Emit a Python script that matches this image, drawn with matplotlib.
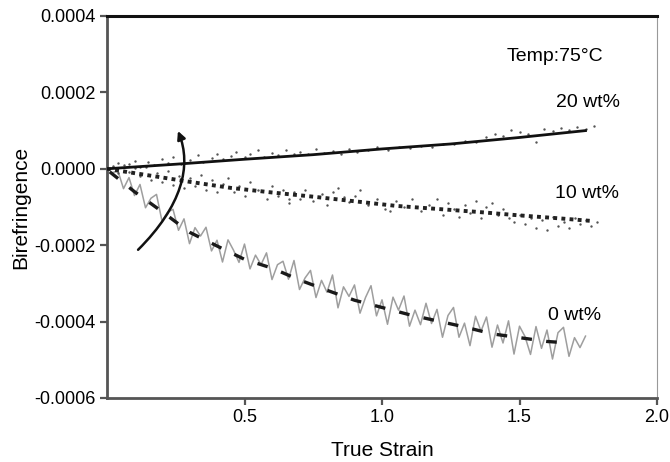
import matplotlib
matplotlib.use("Agg")
import matplotlib.pyplot as plt
from matplotlib.patches import FancyArrowPatch
from matplotlib.path import Path
import numpy as np

plt.rcParams['font.family'] = ['Liberation Sans', 'DejaVu Sans']

SCALE = 1e-4

# 0 wt% : raw (noisy) trace and fitted dashed curve
x0_raw = [0.02, 0.04, 0.06, 0.08, 0.10, 0.12, 0.14, 0.16, 0.18, 0.20,
          0.22, 0.24, 0.26, 0.28, 0.30, 0.32, 0.34, 0.36, 0.38, 0.40,
          0.42, 0.44, 0.46, 0.48, 0.50, 0.52, 0.54, 0.56, 0.58, 0.60,
          0.62, 0.64, 0.66, 0.68, 0.70, 0.72, 0.74, 0.76, 0.78, 0.80,
          0.82, 0.84, 0.86, 0.88, 0.90, 0.92, 0.94, 0.96, 0.98, 1.00,
          1.02, 1.04, 1.06, 1.08, 1.10, 1.12, 1.14, 1.16, 1.18, 1.20,
          1.22, 1.24, 1.26, 1.28, 1.30, 1.32, 1.34, 1.36, 1.38, 1.40,
          1.42, 1.44, 1.46, 1.48, 1.50, 1.52, 1.54, 1.56, 1.58, 1.60,
          1.62, 1.64, 1.66, 1.68, 1.70, 1.72, 1.74]
y0_raw = [-0.10, -0.06, -0.52, -0.23, -0.70, -0.41, -1.02, -0.77, -0.67, -1.37,
          -1.14, -1.06, -1.61, -1.31, -1.96, -1.54, -1.76, -1.53, -2.15, -1.87,
          -2.44, -1.86, -2.13, -2.45, -1.97, -2.62, -2.26, -2.51, -2.20, -2.90,
          -2.51, -2.42, -2.89, -2.40, -3.16, -2.86, -2.66, -3.37, -2.92, -3.23,
          -2.78, -3.64, -3.09, -3.34, -3.04, -3.78, -3.37, -3.06, -3.85, -3.43,
          -4.07, -3.36, -3.70, -3.33, -4.12, -3.70, -4.08, -3.52, -4.05, -3.68,
          -4.41, -3.84, -3.63, -4.41, -4.04, -4.63, -3.86, -4.25, -3.88, -4.67,
          -4.09, -4.56, -3.98, -4.85, -4.12, -4.39, -4.86, -4.13, -4.70, -4.22,
          -4.98, -4.29, -4.15, -4.91, -4.42, -4.68, -4.38]
x0_fit = [0.01, 0.1, 0.2, 0.3, 0.4, 0.5, 0.6, 0.7, 0.8, 0.9, 1.0,
          1.1, 1.2, 1.3, 1.4, 1.5, 1.6, 1.68]
y0_fit = [-0.08, -0.60, -1.12, -1.66, -2.02, -2.37, -2.60, -2.91, -3.18, -3.44, -3.63,
          -3.82, -3.98, -4.14, -4.32, -4.42, -4.52, -4.56]

# 10 wt% : scatter and dotted fit
x10_pts = [0.02, 0.04, 0.06, 0.08, 0.10, 0.12, 0.14, 0.16, 0.18, 0.20,
           0.22, 0.24, 0.26, 0.28, 0.30, 0.32, 0.34, 0.36, 0.38, 0.40,
           0.42, 0.44, 0.46, 0.48, 0.50, 0.52, 0.55, 0.58, 0.60, 0.62,
           0.64, 0.66, 0.66, 0.68, 0.70, 0.72, 0.75, 0.78, 0.80, 0.82,
           0.84, 0.86, 0.88, 0.90, 0.92, 0.95, 0.98, 1.01, 1.03, 1.05,
           1.08, 1.11, 1.14, 1.17, 1.20, 1.22, 1.24, 1.26, 1.28, 1.30,
           1.32, 1.34, 1.36, 1.38, 1.40, 1.42, 1.44, 1.46, 1.48, 1.50,
           1.52, 1.54, 1.56, 1.58, 1.60, 1.62, 1.64, 1.66, 1.68, 1.70,
           1.72, 1.74, 1.76, 1.78]
y10_pts = [0.05, -0.10, 0.10, -0.08, 0.02, -0.20, 0.05, -0.30, -0.10, -0.35,
           -0.05, -0.42, -0.20, -0.50, -0.25, -0.45, -0.15, -0.55, -0.30, -0.62,
           -0.40, -0.25, -0.60, -0.45, -0.70, -0.35, -0.55, -0.80, -0.45, -0.70,
           -0.55, -0.90, -0.80, -0.60, -0.78, -0.55, -0.85, -0.65, -0.95, -0.60,
           -0.50, -0.75, -0.88, -0.70, -0.55, -0.95, -0.80, -1.05, -1.10, -0.85,
           -1.00, -0.80, -1.10, -0.95, -0.80, -1.20, -0.90, -1.05, -1.25, -0.95,
           -1.15, -0.85, -1.30, -1.00, -0.90, -1.20, -1.05, -1.30, -1.40, -1.20,
           -1.45, -1.30, -1.55, -1.35, -1.60, -1.25, -1.50, -1.40, -1.55, -1.30,
           -1.45, -1.35, -1.50, -1.40]
x10_fit = [0.0, 0.15, 0.3, 0.45, 0.6, 0.75, 0.9, 1.05, 1.2, 1.35, 1.5, 1.65, 1.77]
y10_fit = [0.0, -0.17, -0.34, -0.50, -0.62, -0.73, -0.85, -0.97, -1.05, -1.13, -1.22, -1.30, -1.37]

# 20 wt% : scatter and solid fit
x20_pts = [0.02, 0.04, 0.06, 0.08, 0.10, 0.12, 0.15, 0.17, 0.20, 0.22,
           0.24, 0.27, 0.30, 0.33, 0.35, 0.38, 0.40, 0.42, 0.45, 0.47,
           0.50, 0.52, 0.55, 0.57, 0.60, 0.62, 0.65, 0.68, 0.70, 0.73,
           0.76, 0.79, 0.82, 0.85, 0.88, 0.91, 0.95, 0.98, 1.02, 1.06,
           1.10, 1.14, 1.18, 1.22, 1.26, 1.30, 1.34, 1.38, 1.41, 1.44,
           1.47, 1.50, 1.53, 1.56, 1.59, 1.62, 1.65, 1.68, 1.71, 1.74, 1.77]
y20_pts = [0.08, 0.15, -0.05, 0.12, 0.20, 0.05, 0.18, 0.10, 0.25, 0.16,
           0.30, 0.12, 0.22, 0.35, 0.18, 0.28, 0.40, 0.25, 0.33, 0.45,
           0.30, 0.38, 0.48, 0.32, 0.42, 0.36, 0.50, 0.38, 0.45, 0.40,
           0.52, 0.42, 0.47, 0.40, 0.53, 0.45, 0.50, 0.56, 0.50, 0.58,
           0.55, 0.60, 0.58, 0.66, 0.64, 0.72, 0.70, 0.82, 0.90, 0.85,
           1.02, 0.96, 0.92, 0.70, 1.05, 0.98, 1.08, 1.02, 1.10, 1.05, 1.12]
x20_fit = [0.0, 0.25, 0.5, 0.75, 1.0, 1.25, 1.5, 1.74]
y20_fit = [0.0, 0.12, 0.25, 0.37, 0.52, 0.65, 0.82, 1.0]

# curved arrow (cubic Bezier control points, data units)
arrow_x = [0.113, 0.273, 0.309, 0.258]
arrow_y = [-2.12, -0.97, 0.08, 0.99]

x_ticks = [0.5, 1.0, 1.5, 2.0]
y_ticks = [-0.0006, -0.0004, -0.0002, 0.0, 0.0002, 0.0004]

fig = plt.figure(figsize=(6.7, 4.62), dpi=100)
ax = fig.add_axes([107/670, 1-398/462, 550/670, 382/462])

s = lambda v: np.array(v) * SCALE

# 0 wt%
ax.plot(x0_raw, s(y0_raw), color='#9e9e9e', lw=1.1, zorder=2)
ax.plot(x0_fit, s(y0_fit), color='#1a1a1a', lw=2.4, dashes=(3.2, 4.3), zorder=3)

# 10 wt%
ax.scatter(x10_pts, s(y10_pts), s=3.0, color='#555555', zorder=2, linewidths=0)
ax.plot(x10_fit, s(y10_fit), color='#222222', lw=2.8, linestyle=(0, (1, 1.1)), zorder=3)

# 20 wt%
ax.scatter(x20_pts, s(y20_pts), s=3.0, color='#555555', zorder=2, linewidths=0)
ax.plot(x20_fit, s(y20_fit), color='#111111', lw=2.0, zorder=3)

# curved arrow
verts = list(zip(arrow_x, s(arrow_y)))
path = Path(verts, [Path.MOVETO, Path.CURVE4, Path.CURVE4, Path.CURVE4])
arrow = FancyArrowPatch(path=path, arrowstyle='-|>', mutation_scale=12,
                        lw=1.8, color='#111111', zorder=4)
ax.add_patch(arrow)

ax.text(1.63, 0.000295, 'Temp:75°C', fontsize=14, ha='center', va='center')
ax.text(1.75, 0.000173, '20 wt%', fontsize=14, ha='center', va='center')
ax.text(1.745, -0.000065, '10 wt%', fontsize=14, ha='center', va='center')
ax.text(1.70, -0.000385, '0 wt%', fontsize=14, ha='center', va='center')

ax.set_xlim(0, 2.0)
ax.set_ylim(-0.0006, 0.0004)
ax.set_xticks(x_ticks)
ax.set_xticklabels(['%.1f' % v for v in x_ticks])
ax.set_yticks(y_ticks)
ax.set_yticklabels(['%.4f' % v if v != 0 else '0.0000' for v in y_ticks])

for side in ['left', 'bottom']:
    ax.spines[side].set_color('#555555')
    ax.spines[side].set_linewidth(2.0)
ax.spines['top'].set_color('#111111')
ax.spines['top'].set_linewidth(2.2)
ax.spines['right'].set_color('#999999')
ax.spines['right'].set_linewidth(0.8)

ax.tick_params(axis='both', direction='out', length=5, width=1.6, color='#555555',
               labelsize=13, pad=3)
ax.set_xlabel('True Strain', fontsize=15, labelpad=11)
ax.set_ylabel('Birefringence', fontsize=15, labelpad=3)

fig.savefig('out.png', dpi=100)
